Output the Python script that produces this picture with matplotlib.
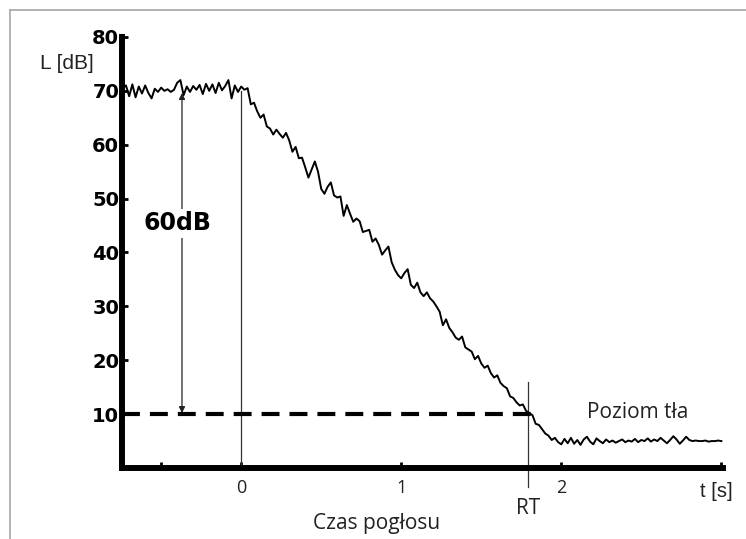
import matplotlib
matplotlib.use('Agg')
import matplotlib.pyplot as plt
from matplotlib.lines import Line2D
import numpy as np

# sound level decay, sampled every 0.02 s starting at t = -0.74 s
t_start = -0.74
t_step = 0.02
level = [
    70.5, 71.0, 69.0, 71.2, 68.8, 70.8, 69.5, 71.0, 69.6, 68.6,
    70.4, 69.8, 70.6, 70.0, 70.3, 69.8, 70.2, 71.5, 72.0, 69.2,
    70.8, 69.8, 70.9, 70.2, 71.1, 69.4, 71.3, 70.0, 71.2, 69.6,
    71.5, 70.1, 70.9, 72.0, 68.6, 71.0, 69.8, 70.8, 70.2, 70.5,
    67.5, 67.8, 66.2, 65.0, 65.6, 63.4, 63.0, 61.9, 62.8, 62.0,
    61.3, 62.2, 60.8, 58.7, 59.6, 57.5, 57.6, 55.8, 53.9, 55.4,
    56.9, 55.0, 51.8, 50.9, 52.2, 53.0, 50.6, 50.2, 50.4, 46.8,
    48.8, 47.2, 45.7, 46.3, 45.8, 43.8, 44.0, 44.2, 42.0, 42.6,
    41.4, 39.6, 40.4, 41.1, 38.2, 36.8, 35.8, 35.2, 36.2, 36.9,
    34.0, 33.4, 34.4, 32.6, 31.9, 32.6, 31.5, 30.9, 30.0, 29.0,
    26.5, 27.6, 26.0, 25.2, 24.2, 23.8, 24.4, 22.4, 22.0, 21.6,
    20.2, 20.8, 19.4, 18.6, 19.0, 17.6, 16.8, 17.2, 15.8, 15.2,
    14.8, 13.3, 13.0, 12.2, 11.6, 11.8, 10.6, 10.2, 9.8, 8.2,
    8.0, 7.2, 6.4, 6.0, 5.2, 5.6, 4.8, 4.4, 5.4, 4.6,
    5.6, 4.5, 5.2, 4.3, 5.3, 5.8, 4.9, 4.4, 5.5, 5.0,
    4.6, 5.3, 4.8, 5.1, 4.7, 5.0, 5.3, 4.8, 5.1, 4.9,
    5.4, 4.8, 5.2, 5.0, 5.5, 4.9, 5.3, 5.0, 5.6, 5.1,
    4.6, 5.2, 5.9, 5.3, 4.5, 5.1, 5.8, 5.2, 5.0, 5.1,
    5.0, 5.0, 5.1, 4.9, 5.0, 5.0, 5.1, 5.0,
]
t = t_start + t_step * np.arange(len(level))

y_ticks = [10, 20, 30, 40, 50, 60, 70, 80]
x_ticks = [-0.5, 0, 1, 2, 3]
x_labels = ['', '0', '1', '2', '']

start_level = 70
noise_level = 10
rt_time = 1.79
arrow_time = -0.37

fig = plt.figure(figsize=(7.46, 5.39), dpi=100)
fig.set_facecolor('w')
ax = fig.add_axes([0.1635, 0.1317, 0.8056, 0.7997])

ax.plot(t, level, color='black', lw=1.4, zorder=3)

# reference lines
ax.plot([0, 0], [0, start_level], color='#333333', lw=0.9)
ax.plot([rt_time, rt_time], [-3.6, 16], color='#333333', lw=0.9, clip_on=False)
ax.plot([-0.745, 1.86], [noise_level, noise_level], color='black', lw=3,
        dashes=(4.3, 2.4), solid_capstyle='butt', zorder=4)

ax.annotate('', xy=(arrow_time, noise_level + 0.2), xytext=(arrow_time, 69.6),
            arrowprops=dict(arrowstyle='<|-|>', color='#222222', lw=0.9,
                            mutation_scale=9, shrinkA=0, shrinkB=0))
ax.text(-0.40, 45.4, '60dB', fontsize=17, fontweight='bold', family='DejaVu Sans',
        ha='center', va='center',
        bbox=dict(facecolor='white', edgecolor='none', pad=1.5))

ax.text(2.475, 10.3, 'Poziom tła', fontsize=15, family='Open Sans',
        ha='center', va='center', color='#222222')

ax.set_xlim(-0.745, 3.01)
ax.set_ylim(0, 80)
ax.set_yticks(y_ticks)
ax.set_yticklabels([str(v) for v in y_ticks], fontsize=14, fontweight='bold',
                   family='DejaVu Sans')
ax.set_xticks(x_ticks)
ax.set_xticklabels(x_labels, fontsize=13, family='Open Sans', color='#222222')
ax.tick_params(axis='y', direction='in', length=4, width=2, pad=2)
ax.tick_params(axis='x', direction='in', length=4, width=2, pad=8)

for side in ['top', 'right']:
    ax.spines[side].set_visible(False)
for side in ['left', 'bottom']:
    ax.spines[side].set_linewidth(4.3)
    ax.spines[side].set_capstyle('projecting')

fig.text(0.0898, 0.883, 'L [dB]', fontsize=15, family='Liberation Sans',
         ha='center', va='center', color='#222222')
fig.text(0.9598, 0.0872, 't [s]', fontsize=14.5, family='Liberation Sans',
         ha='center', va='center', color='#222222')
fig.text(0.5054, 0.028, 'Czas pogłosu', fontsize=15, family='Open Sans',
         ha='center', va='center', color='#222222')
fig.text(0.7078, 0.0575, 'RT', fontsize=15, family='Open Sans',
         ha='center', va='center', color='#222222')

# grey frame around the picture
fig.add_artist(Line2D([10 / 746, 10 / 746], [0, 1 - 10 / 539],
                      transform=fig.transFigure, color='#a6a6a6', lw=1.2))
fig.add_artist(Line2D([10 / 746, 1], [1 - 10 / 539, 1 - 10 / 539],
                      transform=fig.transFigure, color='#a6a6a6', lw=1.2))

fig.savefig('out.png', dpi=100)
